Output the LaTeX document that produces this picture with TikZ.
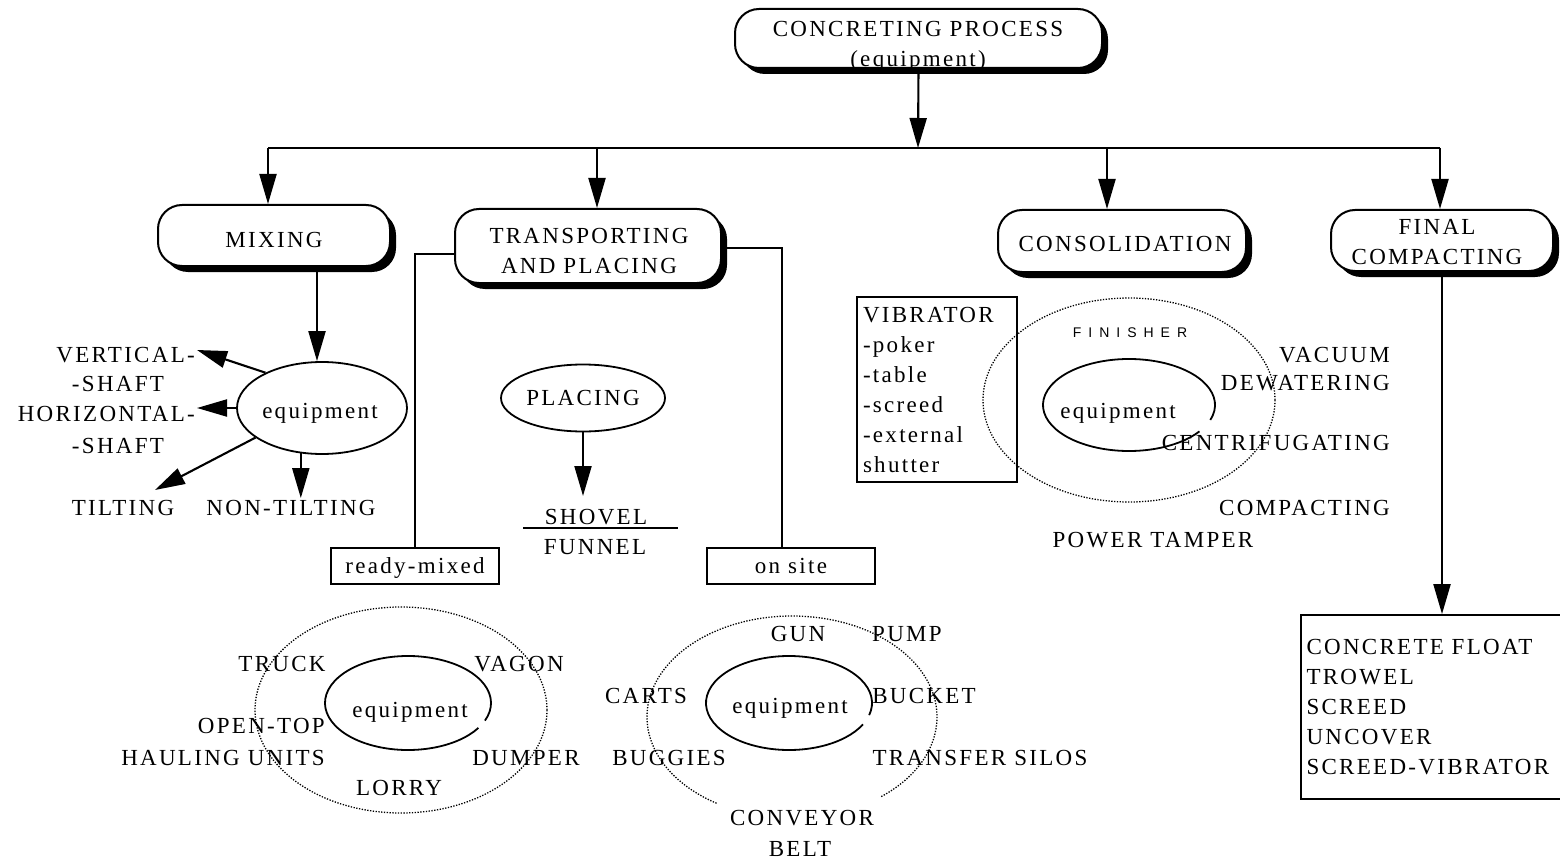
\documentclass[tikz,border=0pt]{standalone}
\usepackage{fontspec}
\setmainfont{Liberation Serif}[LetterSpace=10]
\newfontfamily\finfont{Liberation Sans}[LetterSpace=50]
\usetikzlibrary{arrows.meta,shapes.geometric,shadows,calc}
\begin{document}
\begin{tikzpicture}[x=1pt,y=-1pt,
  every node/.style={font=\fontsize{23}{30}\selectfont},
  txt/.style={inner sep=2pt},
  procbox/.style={draw, line width=2pt, rounded corners=24pt, fill=white,
     drop shadow={shadow xshift=6pt, shadow yshift=-6pt, fill=black, opacity=1}},
  sqbox/.style={draw, line width=1.8pt, inner sep=0pt},
  oval/.style={draw, ellipse, line width=1.8pt, inner sep=0pt},
  conn/.style={line width=2.1pt},
  curve/.style={line width=1.8pt},
  arr/.style={conn, -{Triangle[length=30pt,width=17pt]}},
  dotell/.style={line width=1.3pt, dash pattern=on 1.3pt off 1.5pt}
]
\fill[white] (0,0) rectangle (1560,861);
\useasboundingbox (0,0) rectangle (1560,861);

% ---------- main boxes ----------
\node[procbox, minimum width=367pt, minimum height=59pt] (top) at (918.5,38.5) {};
\node[txt, align=center] (topT) at (918,46) {CONCRETING PROCESS\\(equipment)};

\node[procbox, minimum width=232pt, minimum height=61pt] (mix) at (274,235.5) {};
\node[txt] (mixT) at (274,240) {MIXING};

\node[procbox, minimum width=266pt, minimum height=74pt] (trans) at (588,246) {};
\node[txt, align=center] (transT) at (589,251) {TRANSPORTING\\AND PLACING};

\node[procbox, minimum width=248pt, minimum height=62pt] (cons) at (1122,241) {};
\node[txt] (consT) at (1125,244) {CONSOLIDATION};

\node[procbox, minimum width=222pt, minimum height=61pt] (fin) at (1442,240.5) {};
\node[txt, align=center] (finT) at (1437,242.5) {FINAL\\COMPACTING};

% ---------- bus ----------
\coordinate (bus) at (918,148);
\coordinate (busL) at (268,148);
\coordinate (busT) at (597,148);
\coordinate (busC) at (1107,148);
\coordinate (busR) at (1440,148);
\draw[arr] (top.south) -- (bus);
\draw[conn] (busL) -- (busR);
\draw[arr] (busL) -- (busL |- mix.north);
\draw[arr] (busT) -- (busT |- trans.north);
\draw[arr] (busC) -- (busC |- cons.north);
\draw[arr] (busR) -- (busR |- fin.north);

% ---------- mixing ----------
\node[oval, minimum width=170pt, minimum height=92pt] (meq) at (322,408) {};
\node[txt] (meqT) at (320,413) {equipment};
\coordinate (mixdrop) at ([xshift=43pt]mix.south);
\draw[arr] (mixdrop) -- (mixdrop |- meq.north);

\node[txt, anchor=east] (vert) at (197,355) {VERTICAL-};
\node[txt] (sh1) at (118,384) {-SHAFT};
\node[txt, anchor=east] (hor) at (197,414) {HORIZONTAL-};
\node[txt] (sh2) at (118,446) {-SHAFT};
\node[txt] (tilt) at (123,508) {TILTING};
\node[txt] (nont) at (291,508) {NON-TILTING};
\coordinate (tiltTip) at (155,490);

\draw[arr] (meq.148) -- ([yshift=5pt]vert.east);
\draw[arr] (meq.180) -- (meq.180 -| hor.east);
\draw[arr] (meq.204) -- (tiltTip);
\draw[arr] (meq.245) -- (meq.245 |- nont.north);

% ---------- transporting ----------
\node[sqbox, minimum width=168pt, minimum height=36pt, text depth=0pt] (ready) at (415,566) {ready-mixed};
\node[sqbox, minimum width=168pt, minimum height=36pt, text depth=0pt] (onsite) at (791,566) {on site};
\draw[conn] ([yshift=-8pt]trans.west) -| (ready.north);
\draw[conn] ([yshift=-2pt]trans.east) -| ([xshift=-9pt]onsite.north);

\node[oval, minimum width=164pt, minimum height=67pt] (plc) at (583,398) {PLACING};
\node[txt] (shov) at (596,517) {SHOVEL};
\node[txt] (funn) at (595,547) {FUNNEL};
\coordinate (plcTip) at (583,496);
\draw[arr] (plc.south) -- (plcTip);
\coordinate (ulA) at (523,528);
\coordinate (ulB) at (678,528);
\draw[conn] (ulA) -- (ulB);

% ready-mixed equipment
\node[dotell, draw, ellipse, minimum width=292pt, minimum height=206pt, inner sep=0pt] (rring) at (401,710) {};
\coordinate (rc) at (408,703);
\draw[curve] ($(rc)+(-22:83pt and 47pt)$) arc[start angle=-22, end angle=328, x radius=83pt, y radius=47pt];
\node[txt] (eqRT) at (410,712) {equipment};
\node[txt] (truck) at (282,664) {TRUCK};
\node[txt] (vagon) at (519,664) {VAGON};
\node[txt, anchor=east] (opentop) at (327,726) {OPEN-TOP};
\node[txt, anchor=east] (haul) at (327,758) {HAULING UNITS};
\node[txt] (dumper) at (526,758) {DUMPER};
\node[txt] (lorry) at (399,788) {LORRY};

% on site equipment
\coordinate (oc2) at (792,717);
\draw[dotell] ($(oc2)+(-52:145pt and 101pt)$) arc[start angle=-52, end angle=239, x radius=145pt, y radius=101pt];
\coordinate (oc) at (789,703);
\draw[curve] ($(oc)+(-15:83pt and 47pt)$) arc[start angle=-15, end angle=333, x radius=83pt, y radius=47pt];
\node[txt] (eqOT) at (790,708) {equipment};
\node[txt] (gun) at (798,634) {GUN};
\node[txt] (pump) at (907,634) {PUMP};
\node[txt] (carts) at (646,696) {CARTS};
\node[txt] (bucket) at (924,696) {BUCKET};
\node[txt] (buggies) at (669,758) {BUGGIES};
\node[txt] (silos) at (980,758) {TRANSFER SILOS};
\node[txt] (conv) at (802,818) {CONVEYOR};
\node[txt] (belt) at (800,849) {BELT};

% ---------- consolidation ----------
\node[sqbox, minimum width=160pt, minimum height=185pt, align=left, text width=148pt] (vib) at (937,389.5) {VIBRATOR\\-poker\\-table\\-screed\\-external\\shutter};
\node[dotell, draw, ellipse, minimum width=292pt, minimum height=204pt, inner sep=0pt] (cring) at (1129,400) {};
\coordinate (cc) at (1129,405);
\draw[curve] ($(cc)+(-19:86pt and 46pt)$) arc[start angle=-19, end angle=325, x radius=86pt, y radius=46pt];
\node[txt, font=\finfont\fontsize{14}{17}\selectfont] (finisher) at (1130,333) {FINISHER};
\node[txt, anchor=east] (vac) at (1392,355) {VACUUM};
\node[txt, anchor=east] (dew) at (1392,383) {DEWATERING};
\node[txt] (eqCT) at (1118,413) {equipment};
\node[txt, anchor=east] (cen) at (1392,443) {CENTRIFUGATING};
\node[txt, anchor=east] (comp) at (1392,508) {COMPACTING};
\node[txt] (ptam) at (1153,540) {POWER TAMPER};

% ---------- final compacting ----------
\node[sqbox, minimum width=261pt, minimum height=184pt, align=left, text width=250pt] (flist) at (1431.5,707) {CONCRETE FLOAT\\TROWEL\\SCREED\\UNCOVER\\SCREED-VIBRATOR};
\draw[arr] (fin.south) -- (fin.south |- flist.north);
\end{tikzpicture}
\end{document}
